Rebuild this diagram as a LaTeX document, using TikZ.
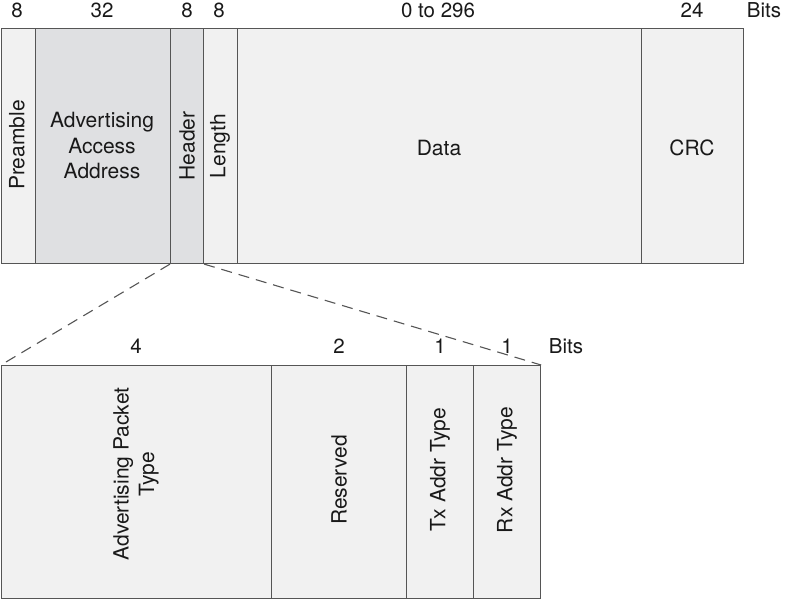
\documentclass[tikz,border=0pt]{standalone}
\usepackage{fontspec}
\setmainfont{TeX Gyre Heros}
\definecolor{lite}{HTML}{F1F1F1}
\definecolor{dark}{HTML}{DFE0E2}
\definecolor{edge}{HTML}{555555}
\begin{document}
\begin{tikzpicture}[x=1pt,y=-1pt,
  field/.style={draw=edge,line width=1.1pt,fill=lite,inner sep=0pt,anchor=north west},
  lbl/.style={font=\fontsize{21}{25.5}\selectfont,align=center,text=black!90},
  num/.style={font=\fontsize{20.5}{24}\selectfont,text=black!90}]
\useasboundingbox (0,0) rectangle (786,602);
% top frame
\node[field,minimum width=34pt,minimum height=235pt] (pre) at (1,28) {};
\node[field,fill=dark,minimum width=135pt,minimum height=235pt] (aa) at (35,28) {};
\node[field,fill=dark,minimum width=33pt,minimum height=235pt] (hdr) at (170,28) {};
\node[field,minimum width=34pt,minimum height=235pt] (len) at (203,28) {};
\node[field,minimum width=404pt,minimum height=235pt] (data) at (237,28) {};
\node[field,minimum width=102pt,minimum height=235pt] (crc) at (641,28) {};
\node[lbl,rotate=90] (tpre) at (17,145) {Preamble};
\node[lbl] (taa) at (102,146) {Advertising\\Access\\Address};
\node[lbl,rotate=90] (thdr) at (187,146) {Header};
\node[lbl,rotate=90] (tlen) at (220,146) {Length};
\node[lbl] (tdata) at (439,148) {Data};
\node[lbl] (tcrc) at (692,148) {CRC};
% top bit counts
\node[num] (n1) at (17,10) {8};
\node[num] (n2) at (102,10) {32};
\node[num] (n3) at (187,10) {8};
\node[num] (n4) at (219,10) {8};
\node[num] (n5) at (438,10) {0 to 296};
\node[num] (n6) at (692,10) {24};
\node[num] (n7) at (764,10) {Bits};
% bottom frame
\node[field,minimum width=270pt,minimum height=233pt] (b1) at (1,365) {};
\node[field,minimum width=135pt,minimum height=233pt] (b2) at (271,365) {};
\node[field,minimum width=67pt,minimum height=233pt] (b3) at (406,365) {};
\node[field,minimum width=67pt,minimum height=233pt] (b4) at (473,365) {};
\node[lbl,rotate=90] (tb1) at (136,474) {Advertising Packet\\Type};
\node[lbl,rotate=90] (tb2) at (339,480) {Reserved};
\node[lbl,rotate=90] (tb3) at (440,470) {Tx Addr Type};
\node[lbl,rotate=90] (tb4) at (507,470) {Rx Addr Type};
\node[num] (m1) at (136,346) {4};
\node[num] (m2) at (339,346) {2};
\node[num] (m3) at (440,346) {1};
\node[num] (m4) at (507,346) {1};
\node[num] (m5) at (566,346) {Bits};
% expansion lines
\draw[edge,line width=1.1pt,dash pattern=on 11pt off 7pt] (hdr.south west) -- (b1.north west);
\draw[edge,line width=1.1pt,dash pattern=on 11pt off 7pt] (hdr.south east) -- (b4.north east);
\end{tikzpicture}
\end{document}
